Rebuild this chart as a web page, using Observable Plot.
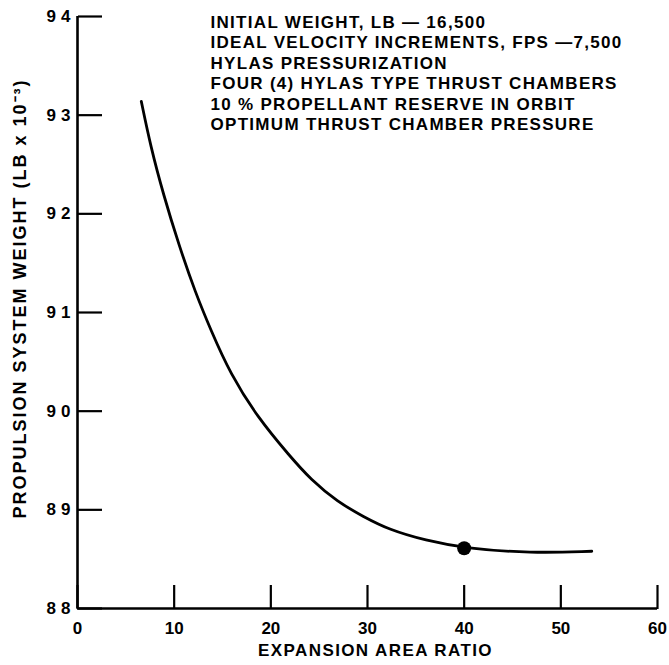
<!DOCTYPE html>
<html>
<head>
<meta charset="utf-8">
<script src="https://cdn.jsdelivr.net/npm/d3@7"></script>
<script src="https://cdn.jsdelivr.net/npm/@observablehq/plot@0.6"></script>
<style>
  html, body { margin: 0; padding: 0; background: #fff; }
  #chart svg { display: block; }
  #chart text { font-family: "Liberation Sans", Arial, sans-serif; font-weight: bold; }
  .ylabels text { letter-spacing: 5px; }
  .ytitle text { letter-spacing: 2px; }
  .xtitle text { letter-spacing: 1.4px; }
  .notes text { letter-spacing: 1.3px; }
</style>
</head>
<body>
<div id="chart"></div>
<script>
// Expansion area ratio vs propulsion system weight (lb x 10^-3)
const ratio  = [6.6, 7.55, 8.9, 10.5, 12.2, 13.8, 15.8, 18.6, 22.0, 24.1, 26.9, 29.6, 32.2, 36.0, 40.1, 46.9, 53.2];
const weight = [93.14, 92.69, 92.19, 91.68, 91.20, 90.82, 90.38, 89.94, 89.54, 89.31, 89.08, 88.93, 88.80, 88.69, 88.61, 88.56, 88.58];
const optimumRatio = [40];
const optimumWeight = [88.61];
const xTicks = [0, 10, 20, 30, 40, 50, 60];
const yTicks = [88, 89, 90, 91, 92, 93, 94];
const notes = [
  "INITIAL WEIGHT, LB — 16,500",
  "IDEAL VELOCITY INCREMENTS, FPS —7,500",
  "HYLAS PRESSURIZATION",
  "FOUR (4) HYLAS TYPE THRUST CHAMBERS",
  "10 % PROPELLANT RESERVE IN ORBIT",
  "OPTIMUM THRUST CHAMBER PRESSURE"
];
const xTitle = "EXPANSION AREA RATIO";
const yTitle = "PROPULSION SYSTEM WEIGHT (LB x 10⁻³)";

const curve = ratio.map((r, i) => ({r, w: weight[i]}));
const optimum = optimumRatio.map((r, i) => ({r, w: optimumWeight[i]}));

const chart = Plot.plot({
  width: 669,
  height: 665,
  marginLeft: 77,
  marginRight: 12,
  marginTop: 16,
  marginBottom: 57,
  style: {background: "#fff", color: "#000"},
  x: {domain: [0, 60]},
  y: {domain: [88, 94]},
  marks: [
    // inward ticks
    Plot.axisY(yTicks, {x: 0, anchor: "right", tickSize: 24, text: null, label: null, strokeWidth: 2.2}),
    Plot.axisX(xTicks, {y: 88, anchor: "top", tickSize: 24, text: null, label: null, strokeWidth: 2.2}),
    // tick labels
    Plot.axisY(yTicks, {anchor: "left", tickSize: 0, tickPadding: 2, fontSize: 17, tickFormat: "d", className: "ylabels", label: null}),
    Plot.axisX(xTicks, {anchor: "bottom", tickSize: 0, tickPadding: 13, fontSize: 17, tickFormat: "d", label: null}),
    // titles
    Plot.text([yTitle], {frameAnchor: "left", textAnchor: "middle", lineAnchor: "middle", rotate: -90, dx: -57, dy: -14, fontSize: 18, className: "ytitle"}),
    Plot.text([xTitle], {frameAnchor: "bottom", textAnchor: "middle", lineAnchor: "middle", dx: 8, dy: 42, fontSize: 17, className: "xtitle"}),
    // axis lines
    Plot.ruleX([0], {y1: 88, y2: 94, stroke: "#000", strokeWidth: 2.6}),
    Plot.ruleY([88], {x1: 0, x2: 60, stroke: "#000", strokeWidth: 2.6}),
    // data
    Plot.line(curve, {x: "r", y: "w", curve: "basis", strokeWidth: 2.8, stroke: "#000"}),
    Plot.dot(optimum, {x: "r", y: "w", r: 7, fill: "#000", stroke: "none"}),
    // notes
    Plot.text([notes.join("\n")], {frameAnchor: "top-left", dx: 133, dy: -3, lineAnchor: "top", textAnchor: "start", lineHeight: 1.2, fontSize: 17, className: "notes"})
  ]
});
document.getElementById("chart").appendChild(chart);
</script>
</body>
</html>
